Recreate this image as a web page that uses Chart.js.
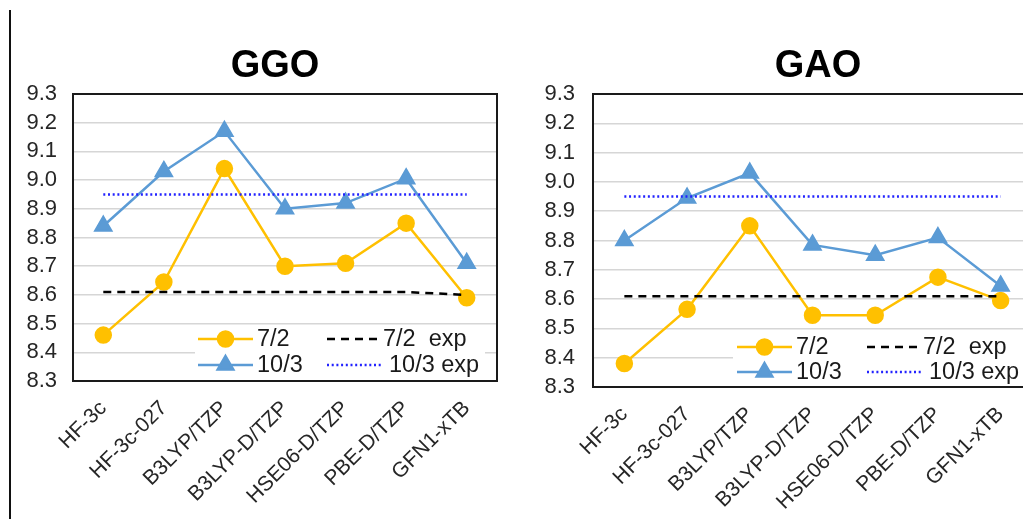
<!DOCTYPE html>
<html>
<head>
<meta charset="utf-8">
<script src="https://cdn.jsdelivr.net/npm/chart.js@4.4.1/dist/chart.umd.min.js"></script>
<style>
  html, body { margin: 0; padding: 0; background: #fff; overflow: hidden; }
  #page { position: relative; width: 1023px; height: 519px; overflow: hidden; }
  #rule { position: absolute; left: 9px; top: 10px; width: 2px; height: 509px; background: #111; }
  .box { position: absolute; top: 0; height: 519px; }
  #ggoBox { left: 0; width: 550px; }
  #gaoBox { left: 498px; width: 640px; }
</style>
</head>
<body>
<div id="page">
  <div id="rule"></div>
  <div class="box" id="ggoBox"><canvas id="ggo"></canvas></div>
  <div class="box" id="gaoBox"><canvas id="gao"></canvas></div>
</div>
<script>
const methods = ['HF-3c', 'HF-3c-027', 'B3LYP/TZP', 'B3LYP-D/TZP', 'HSE06-D/TZP', 'PBE-D/TZP', 'GFN1-xTB'];
const yTicks = [8.3, 8.4, 8.5, 8.6, 8.7, 8.8, 8.9, 9.0, 9.1, 9.2, 9.3];

// GGO
const ggo72 = [8.46, 8.645, 9.04, 8.70, 8.71, 8.85, 8.59];
const ggo103 = [8.84, 9.03, 9.17, 8.90, 8.92, 9.005, 8.71];
const ggo72exp = [8.61, 8.61, 8.61, 8.61, 8.61, 8.61, 8.60];
const ggo103exp = [8.95, 8.95, 8.95, 8.95, 8.95, 8.95, 8.95];

// GAO
const gao72 = [8.38, 8.565, 8.85, 8.545, 8.545, 8.675, 8.595];
const gao103 = [8.80, 8.945, 9.03, 8.785, 8.75, 8.81, 8.645];
const gao72exp = [8.61, 8.61, 8.61, 8.61, 8.61, 8.61, 8.61];
const gao103exp = [8.95, 8.95, 8.95, 8.95, 8.95, 8.95, 8.95];

const FONT = "'Liberation Sans', Arial, sans-serif";
const ORANGE = '#FFC000';
const BLUE = '#5B9BD5';

// plot frame like excel
const frame = {
  id: 'frame',
  afterDraw(chart) {
    const a = chart.chartArea, ctx = chart.ctx;
    ctx.save();
    ctx.strokeStyle = '#1a1a1a';
    ctx.lineWidth = 2;
    ctx.strokeRect(a.left, a.top, a.right - a.left, a.bottom - a.top);
    ctx.restore();
  }
};

// 2x2 legend box inside the plot
const boxLegend = {
  id: 'boxLegend',
  afterDatasetsDraw(chart, args, o) {
    const ctx = chart.ctx;
    ctx.save();
    ctx.fillStyle = '#fff';
    ctx.fillRect(o.left, o.top, o.width, o.height);
    ctx.font = '23.5px ' + FONT;
    ctx.textBaseline = 'middle';
    ctx.textAlign = 'left';
    chart.data.datasets.forEach((d, i) => {
      const col = i >= 2 ? 1 : 0, row = i % 2;
      const x = o.x0 + col * o.colGap, y = o.y0 + row * o.rowGap;
      ctx.strokeStyle = d.borderColor;
      ctx.lineWidth = d.borderWidth;
      ctx.setLineDash(d.borderDash || []);
      ctx.beginPath();
      ctx.moveTo(x, y);
      ctx.lineTo(x + o.sample, y);
      ctx.stroke();
      ctx.setLineDash([]);
      if (d.pointRadius > 0) {
        ctx.fillStyle = d.pointBackgroundColor;
        Chart.helpers.drawPoint(ctx, {pointStyle: d.pointStyle, radius: d.pointRadius, rotation: 0, borderWidth: 1}, x + o.sample / 2, y);
      }
      ctx.fillStyle = '#1a1a1a';
      ctx.fillText(d.label, x + o.sample + o.gaps[i], y + 1);
    });
    ctx.restore();
  }
};

function makeChart(id, title, s72, s103, e72, e103, geo) {
  return new Chart(document.getElementById(id), {
    type: 'line',
    data: {
      labels: methods,
      datasets: [{
        label: '7/2',
        data: s72,
        borderColor: ORANGE,
        backgroundColor: ORANGE,
        pointBackgroundColor: ORANGE,
        pointBorderColor: ORANGE,
        borderWidth: 2.5,
        pointStyle: 'circle',
        pointRadius: 7.5,
        order: 2
      }, {
        label: '10/3',
        data: s103,
        borderColor: BLUE,
        backgroundColor: BLUE,
        pointBackgroundColor: BLUE,
        pointBorderColor: BLUE,
        borderWidth: 2.5,
        pointStyle: 'triangle',
        pointRadius: 9,
        order: 1
      }, {
        label: '7/2  exp',
        data: e72,
        borderColor: '#000',
        borderWidth: 2.5,
        borderDash: [8, 6],
        pointRadius: 0,
        order: 0
      }, {
        label: '10/3 exp',
        data: e103,
        borderColor: '#2222ff',
        borderWidth: 2.5,
        borderDash: [2, 2.7],
        pointRadius: 0,
        order: 0
      }]
    },
    options: {
      responsive: true,
      maintainAspectRatio: false,
      animation: false,
      events: [],
      layout: { padding: 0 },
      elements: { line: { tension: 0 } },
      scales: {
        x: {
          offset: true,
          grid: { display: false },
          border: { display: false },
          ticks: {
            autoSkip: false,
            minRotation: 45,
            maxRotation: 45,
            padding: 7,
            color: '#262626',
            font: { family: FONT, size: 21 }
          },
          afterFit(s) { s.height = geo.xHeight; }
        },
        y: {
          min: 8.3,
          max: 9.3,
          afterBuildTicks(s) { s.ticks = yTicks.map(v => ({ value: v })); },
          grid: { color: '#d6d6d6', lineWidth: 1.5, drawTicks: false },
          border: { display: false },
          ticks: {
            autoSkip: false,
            padding: geo.yPad,
            color: '#262626',
            font: { family: FONT, size: 22 },
            callback: v => v.toFixed(1)
          },
          afterFit(s) { s.width = geo.yWidth; }
        },
        // empty right axis: keeps the plot narrower than the title box
        spacer: {
          position: 'right',
          display: true,
          grid: { display: false },
          border: { display: false },
          ticks: { display: false },
          afterFit(s) { s.width = geo.spacer; }
        }
      },
      plugins: {
        legend: { display: false },
        tooltip: { enabled: false },
        title: {
          display: true,
          text: title,
          color: '#000',
          font: { family: FONT, size: 38, weight: 'bold' },
          padding: { top: 44, bottom: 4.4 }
        },
        boxLegend: geo.legend
      }
    },
    plugins: [frame, boxLegend]
  });
}

makeChart('ggo', 'GGO', ggo72, ggo103, ggo72exp, ggo103exp, {
  spacer: 53, xHeight: 138, yWidth: 73, yPad: 16,
  legend: { left: 195, top: 330, width: 290, height: 50, x0: 198, y0: 339, colGap: 129, rowGap: 26, sample: 55, gaps: [4, 4, 1, 7] }
});

makeChart('gao', 'GAO', gao72, gao103, gao72exp, gao103exp, {
  spacer: 106, xHeight: 132, yWidth: 95, yPad: 18,
  legend: { left: 235, top: 333, width: 300, height: 53, x0: 239, y0: 347, colGap: 130, rowGap: 25, sample: 55, gaps: [4, 4, 1, 7] }
});
</script>
</body>
</html>
